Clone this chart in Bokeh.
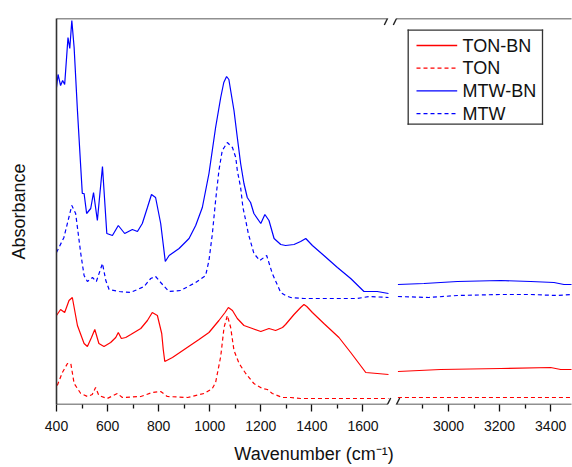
from bokeh.plotting import figure
from bokeh.models import (Range1d, FixedTicker, LinearAxis, Arrow, Label, BoxAnnotation)
from bokeh.embed import file_html
from bokeh.resources import INLINE

# ---------------- data (wavenumber in cm-1, absorbance in arbitrary offset units) -------------
mtwbn_wn = [400, 406, 416, 424, 432, 445, 452, 460, 469, 482, 495, 501, 508, 518, 534, 545, 560,
            580, 597, 619, 642, 667, 697, 717, 736, 756, 772, 788, 808, 818, 826, 841, 880, 919,
            945, 971, 997, 1023, 1043, 1055, 1066, 1075, 1082, 1095, 1108, 1121, 1134, 1147,
            1160, 1173, 1200, 1216, 1232, 1252, 1278, 1297, 1330, 1356, 1376, 1402, 1447, 1500,
            1552, 1604, 1656, 1700,
            2802, 2904, 3035, 3204, 3322, 3413, 3452, 3485]
mtwbn = [317, 330, 319, 324, 320, 367, 356, 384, 357, 294, 237, 211, 211, 191, 196, 212, 184,
         238, 171, 169, 179, 171, 175, 173, 181, 197, 210, 207, 181, 160, 143, 149, 156, 166,
         179, 197, 231, 277, 307, 322, 328, 325, 314, 294, 267, 241, 221, 207,
         202, 191, 181, 190, 184, 166, 160, 159, 160, 163, 166, 159, 149, 137,
         126, 113, 113, 111,
         120, 121, 123, 124, 123, 122, 120, 120]

mtw_wn = [400, 429, 460, 475, 495, 508, 521, 541, 556, 580, 593, 606, 645, 690, 743, 769, 788,
          808, 840, 886, 945, 984, 997, 1010, 1023, 1036, 1049, 1069, 1089, 1102, 1108, 1121,
          1130, 1141, 1151, 1173, 1196, 1223, 1245, 1278, 1297, 1317, 1369, 1474, 1578, 1624,
          1700,
          2802, 2923, 3035, 3204, 3322, 3426, 3485]
mtw = [152, 167, 199, 191, 151, 129, 123, 127, 123, 141, 124, 115, 113, 112, 118, 126, 128,
       122, 113, 114, 122, 129, 144, 170, 204, 234, 254, 262, 257, 247, 234, 217,
       197, 184, 171, 151, 144, 149, 131, 112, 109, 107, 106, 106, 106, 108,
       107,
       108, 107, 109, 110, 110, 109, 110]

tonbn_wn = [400, 416, 432, 449, 462, 482, 508, 521, 537, 550, 566, 586, 612, 632, 642, 654, 671,
            691, 730, 756, 775, 795, 812, 818, 824, 854, 906, 958, 997, 1036, 1060, 1073, 1089,
            1108, 1134, 1167, 1200, 1232, 1258, 1285, 1297, 1330, 1356, 1369, 1380, 1402, 1447,
            1506, 1552, 1611, 1656, 1700,
            2802, 2969, 3204, 3400, 3439, 3485]
tonbn = [89, 95, 92, 104, 107, 79, 61, 58, 67, 75, 61, 58, 62, 67, 72, 66, 67,
         70, 76, 84, 92, 89, 71, 55, 43, 47, 56, 65, 72, 84, 92, 97, 94,
         86, 79, 76, 73, 76, 74, 77, 80, 90, 97, 100, 98, 92, 81,
         67, 52, 32, 31, 30,
         33, 35, 36, 37, 35, 35]

ton_wn = [403, 423, 443, 456, 469, 495, 521, 540, 553, 566, 599, 638, 658, 730, 775, 808, 834,
          913, 978, 1010, 1023, 1043, 1056, 1069, 1082, 1095, 1115, 1141, 1173, 1206, 1226, 1245,
          1285, 1317, 1356, 1700,
          2802, 3485]
ton = [19, 32, 41, 41, 21, 11, 8, 10, 17, 9, 6, 11, 7, 8, 12, 13, 8,
       7, 11, 16, 22, 48, 77, 89, 77, 54, 41, 31, 21, 16, 15, 11,
       7, 7, 6, 6,
       7, 7]

series_names = ["TON-BN", "TON", "MTW-BN", "MTW"]

# tick labels
major_left = [400, 600, 800, 1000, 1200, 1400, 1600]
minor_left = [500, 700, 900, 1100, 1300, 1500]
major_right = [3000, 3200, 3400]
minor_right = [2900, 3100, 3300]

# ---------------- broken axis mapping ----------------
SPLIT = 2000        # values above this belong to the right segment
SHIFT = 1065        # right segment drawn shifted left by this amount


def split(wn, val):
    lx, ly, rx, ry = [], [], [], []
    for w, v in zip(wn, val):
        if w < SPLIT:
            lx.append(w); ly.append(v)
        else:
            rx.append(w - SHIFT); ry.append(v)
    return lx, ly, rx, ry


FONT = "Liberation Sans"
INK = "#111111"
FRAME = "#222222"

p = figure(width=572, height=466, output_backend="svg", toolbar_location=None,
           x_range=Range1d(400, 2416.6), y_range=Range1d(0, 386),
           min_border_left=56, min_border_right=1, min_border_top=18, min_border_bottom=62,
           x_axis_type=None, y_axis_type=None)
p.outline_line_color = None
p.background_fill_color = "white"
p.border_fill_color = "white"

RED = "#ff0000"
BLUE = "#0000ff"
DASH = "4 3"
styles = [(tonbn_wn, tonbn, RED, "solid"), (ton_wn, ton, RED, DASH),
          (mtwbn_wn, mtwbn, BLUE, "solid"), (mtw_wn, mtw, BLUE, DASH)]

for wn, val, col, dash in styles:
    lx, ly, rx, ry = split(wn, val)
    p.line(lx, ly, line_color=col, line_width=1.2, line_dash=dash)
    p.line(rx, ry, line_color=col, line_width=1.2, line_dash=dash)

# bottom axis (ticks, labels and title; the line itself is drawn with breaks below)
ticks = major_left + [t - SHIFT for t in major_right]
mticks = minor_left + [t - SHIFT for t in minor_right]
xaxis = LinearAxis(ticker=FixedTicker(ticks=ticks, minor_ticks=mticks),
                   major_label_overrides={t - SHIFT: str(t) for t in major_right},
                   axis_label="Wavenumber (cm\u207b\u00b9)")
xaxis.axis_line_color = None
xaxis.major_tick_line_color = INK
xaxis.minor_tick_line_color = INK
xaxis.major_tick_line_width = 1.3
xaxis.minor_tick_line_width = 1.3
xaxis.major_tick_out = 7
xaxis.major_tick_in = 0
xaxis.minor_tick_out = 4
xaxis.minor_tick_in = 0
xaxis.major_label_standoff = 9
xaxis.major_label_text_font = FONT
xaxis.major_label_text_font_size = "14px"
xaxis.major_label_text_color = INK
xaxis.axis_label_standoff = 10
xaxis.axis_label_text_font = FONT
xaxis.axis_label_text_font_size = "18px"
xaxis.axis_label_text_font_style = "normal"
xaxis.axis_label_text_color = INK
p.add_layout(xaxis, "below")

yaxis = LinearAxis(ticker=FixedTicker(ticks=[]), axis_label="Absorbance")
yaxis.axis_line_color = "#333333"
yaxis.axis_line_width = 1.6
yaxis.major_tick_out = 0
yaxis.major_tick_in = 0
yaxis.minor_tick_out = 0
yaxis.minor_tick_in = 0
yaxis.major_label_standoff = 0
yaxis.axis_label_standoff = 28
yaxis.axis_label_text_font = FONT
yaxis.axis_label_text_font_size = "18px"
yaxis.axis_label_text_font_style = "normal"
yaxis.axis_label_text_color = INK
p.add_layout(yaxis, "left")


def seg(x0, y0, x1, y1, **kw):
    """Straight annotation segment in screen units relative to the plot frame."""
    p.add_layout(Arrow(end=None, x_start=x0, y_start=y0, x_end=x1, y_end=y1,
                       start_units="screen", end_units="screen", **kw))


# frame lines with breaks
FW, FH = 515, 386
for yy in (0, FH):
    for x0, x1 in ((0, 331), (340, FW + 2)):
        seg(x0, yy, x1, yy, line_color=FRAME, line_width=1.6)
    for cx in (331, 340):
        seg(cx - 3.2, yy - 6.5, cx + 3.2, yy + 6.5, line_color=FRAME, line_width=1.4)

# legend (box, sample lines and labels)
LG_L, LG_R, LG_B, LG_T = 351.7, 486.0, 280.3, 374.3
box = dict(line_color="#333333", line_width=1.3, line_cap="square")
seg(LG_L, LG_B, LG_R, LG_B, **box)
seg(LG_L, LG_T, LG_R, LG_T, **box)
seg(LG_L, LG_B, LG_L, LG_T, **box)
seg(LG_R, LG_B, LG_R, LG_T, **box)
for i, (name, (wn, val, col, dash)) in enumerate(zip(series_names, styles)):
    yc = 359.0 - 22.7 * i
    if dash == "solid":
        p.add_layout(BoxAnnotation(left=360.0, right=400.7, bottom=yc - 0.65, top=yc + 0.65,
                                   left_units="screen", right_units="screen",
                                   bottom_units="screen", top_units="screen",
                                   fill_color=col, fill_alpha=1.0, line_color=None))
    else:
        seg(360.0, yc, 400.7, yc, line_color=col, line_width=1.2, line_dash=dash)
    p.add_layout(Label(x=406.0, y=yc, x_units="screen", y_units="screen", text=name,
                       text_font=FONT, text_font_size="18px", text_baseline="middle",
                       text_color=INK))

open("out.html", "w").write(file_html(p, INLINE))
